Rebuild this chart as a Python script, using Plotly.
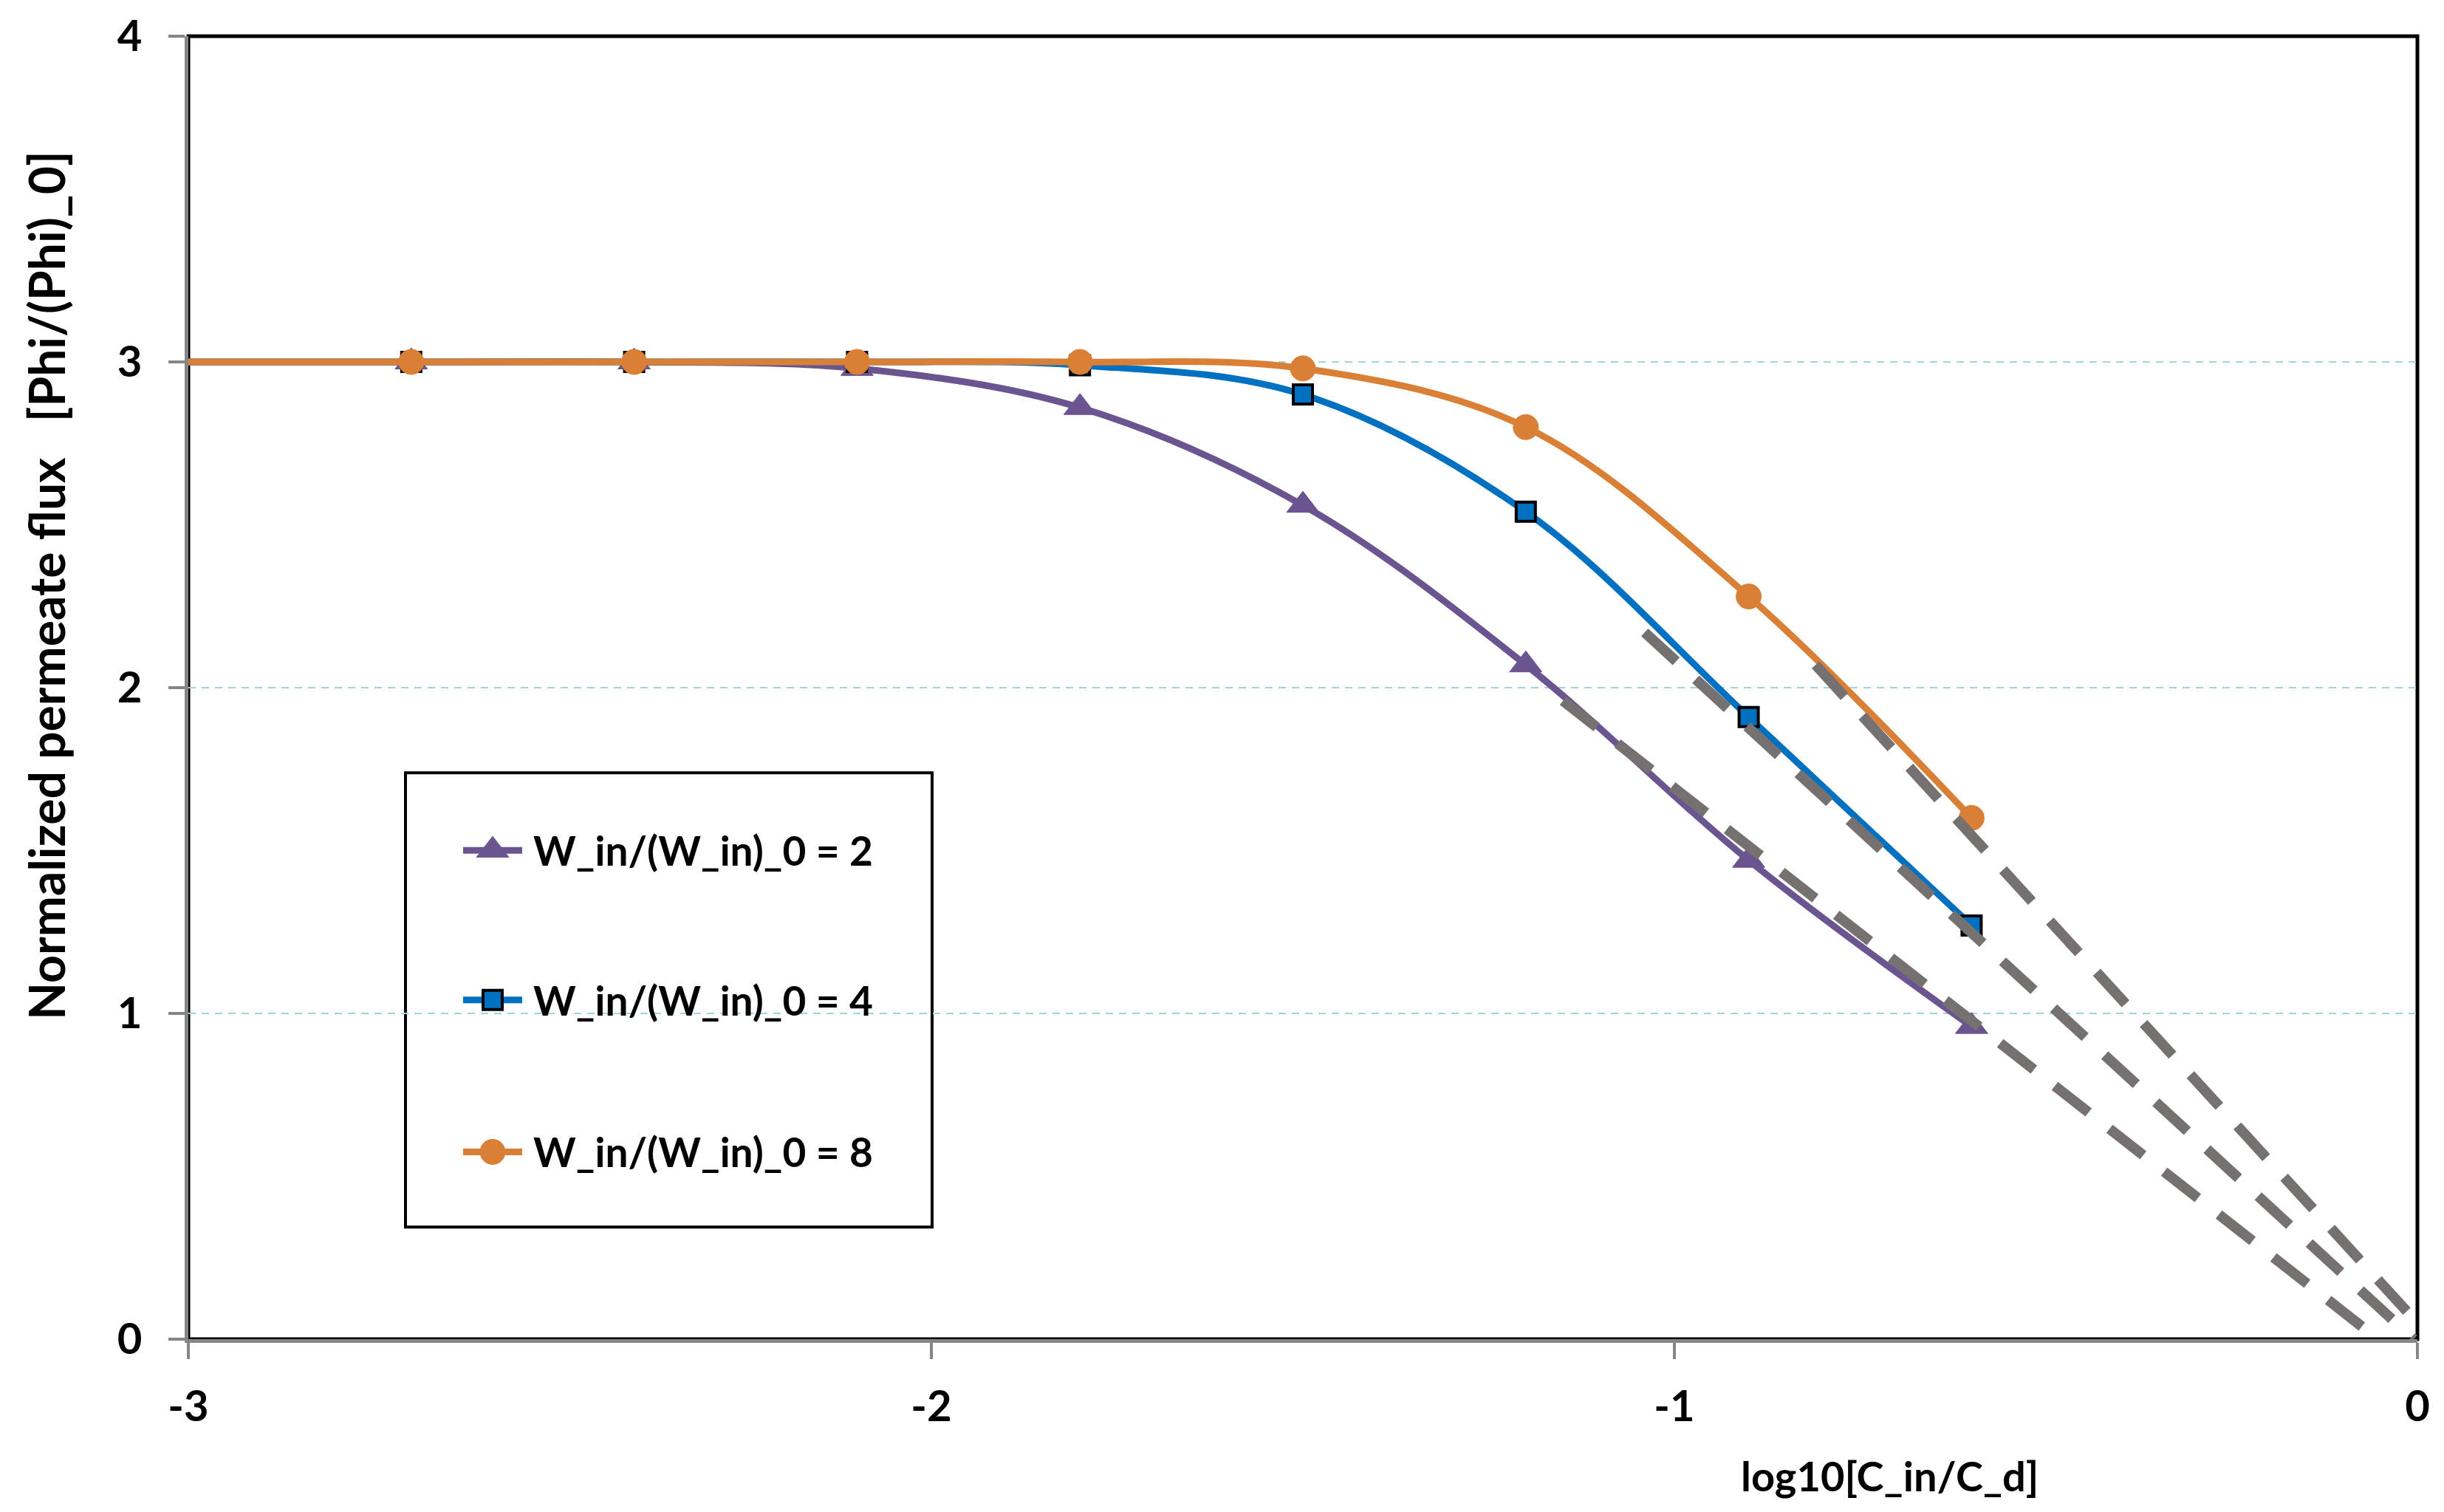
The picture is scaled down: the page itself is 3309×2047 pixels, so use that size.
import plotly.graph_objects as go

# log10 of inlet / draw concentration ratio
log_c = [-3.0, -2.7, -2.4, -2.1, -1.8, -1.5, -1.2, -0.9, -0.6]

# normalized permeate flux for three inlet flow ratios
flux_w2 = [3.0, 3.0, 3.0, 2.98, 2.86, 2.56, 2.07, 1.47, 0.96]
flux_w4 = [3.0, 3.0, 3.0, 3.0, 2.99, 2.90, 2.54, 1.91, 1.27]
flux_w8 = [3.0, 3.0, 3.0, 3.0, 3.0, 2.98, 2.80, 2.28, 1.60]

series_names = ["W_in/(W_in)_0 = 2", "W_in/(W_in)_0 = 4", "W_in/(W_in)_0 = 8"]

# dashed asymptotes (start / end points)
asym_x = [[-1.15, -0.053], [-1.04, -0.005], [-0.81, 0.0]]
asym_y = [[1.96, 0.0], [2.17, 0.0], [2.07, 0.05]]

x_ticks = [-3, -2, -1, 0]
x_tick_labels = ["-3", "-2", "-1", "0"]
y_ticks = [0, 1, 2, 3, 4]
y_tick_labels = ["0", "1", "2", "3", "4"]

FONT = "Lato"
W, H = 3309, 2047
L, R, T, B = 255, 36, 46, 234
pw, ph = W - L - R, H - T - B


def px_x(v):
    return (v - L) / pw


def px_y(v):
    return (H - B - v) / ph


colors = ["#6A5590", "#0070C0", "#D98036"]
symbols = ["triangle-up", "square", "circle"]
sizes = [38, 26, 34]
mlines = [dict(color=colors[0], width=1), dict(color="black", width=4), dict(color=colors[2], width=1)]

fig = go.Figure()

for ys, name, c, sym, s, ml in zip([flux_w2, flux_w4, flux_w8], series_names,
                                    colors, symbols, sizes, mlines):
    fig.add_trace(go.Scatter(
        x=log_c, y=ys, name=name, mode="lines+markers", showlegend=False,
        line=dict(color=c, width=9, shape="spline"),
        marker=dict(symbol=sym, size=[0] + [s] * (len(ys) - 1), color=c, line=ml, opacity=1),
    ))

for ax, ay in zip(asym_x, asym_y):
    fig.add_trace(go.Scatter(
        x=ax, y=ay, mode="lines", showlegend=False, hoverinfo="skip",
        line=dict(color="#767171", width=14, dash="58px,36px"),
    ))

# hand-drawn legend on an overlay axis that spans the plot area (paper coords)
leg_rows = [1150, 1353, 1559]
for row, name, c, sym, s, ml in zip(leg_rows, series_names, colors, symbols, sizes, mlines):
    fig.add_trace(go.Scatter(
        x=[px_x(627), px_x(667), px_x(707)], y=[px_y(row)] * 3,
        xaxis="x2", yaxis="y2", mode="lines+markers", showlegend=False, hoverinfo="skip",
        line=dict(color=c, width=9),
        marker=dict(symbol=sym, size=[0, s, 0], color=c, line=ml, opacity=1),
    ))

axis_common = dict(
    showline=True, linecolor="#868686", linewidth=5,
    ticks="outside", ticklen=22, tickwidth=4, tickcolor="#868686",
    zeroline=False,
    tickfont=dict(family=FONT, size=58, color="black", weight="bold"),
)

annotations = [
    dict(text=name, xref="paper", yref="paper", x=px_x(720), y=px_y(row),
         xanchor="left", yanchor="middle", showarrow=False,
         font=dict(family=FONT, size=55, color="black", weight="bold"))
    for row, name in zip(leg_rows, series_names)
]
annotations += [
    dict(text="log10[C_in/C_d]", xref="paper", yref="paper",
         x=px_x(2558), y=px_y(1998), xanchor="center", yanchor="middle",
         showarrow=False, font=dict(family=FONT, size=56, color="black", weight="bold")),
    dict(text="Normalized permeate flux   [Phi/(Phi)_0]", xref="paper", yref="paper",
         x=px_x(63), y=px_y(791), xanchor="center", yanchor="middle", textangle=-90,
         showarrow=False, font=dict(family=FONT, size=66, color="black", weight="bold")),
]

fig.update_layout(
    width=W, height=H,
    margin=dict(l=L, r=R, t=T, b=B, pad=0),
    plot_bgcolor="white", paper_bgcolor="white",
    showlegend=False,
    xaxis=dict(range=[-3, 0], tickvals=x_ticks, ticktext=x_tick_labels,
               showgrid=False, ticklabelstandoff=14, **axis_common),
    yaxis=dict(range=[0, 4], tickvals=y_ticks, ticktext=y_tick_labels,
               showgrid=True, gridcolor="#A4D3DE", gridwidth=2, griddash="10px,8px",
               ticklabelstandoff=24, **axis_common),
    xaxis2=dict(overlaying="x", range=[0, 1], visible=False, fixedrange=True),
    yaxis2=dict(overlaying="y", range=[0, 1], visible=False, fixedrange=True),
    shapes=[
        dict(type="rect", xref="x domain", yref="y domain", x0=0, x1=1, y0=0, y1=1,
             line=dict(color="black", width=5), layer="below"),
        dict(type="rect", xref="paper", yref="paper",
             x0=px_x(549), x1=px_x(1262), y0=px_y(1661), y1=px_y(1045),
             line=dict(color="black", width=4), fillcolor="white", layer="between"),
    ],
    annotations=annotations,
)

fig.write_html(
    "out.html",
    config={"displayModeBar": False},
    post_script="document.body.style.margin='0';document.body.style.overflow='hidden';",
)
